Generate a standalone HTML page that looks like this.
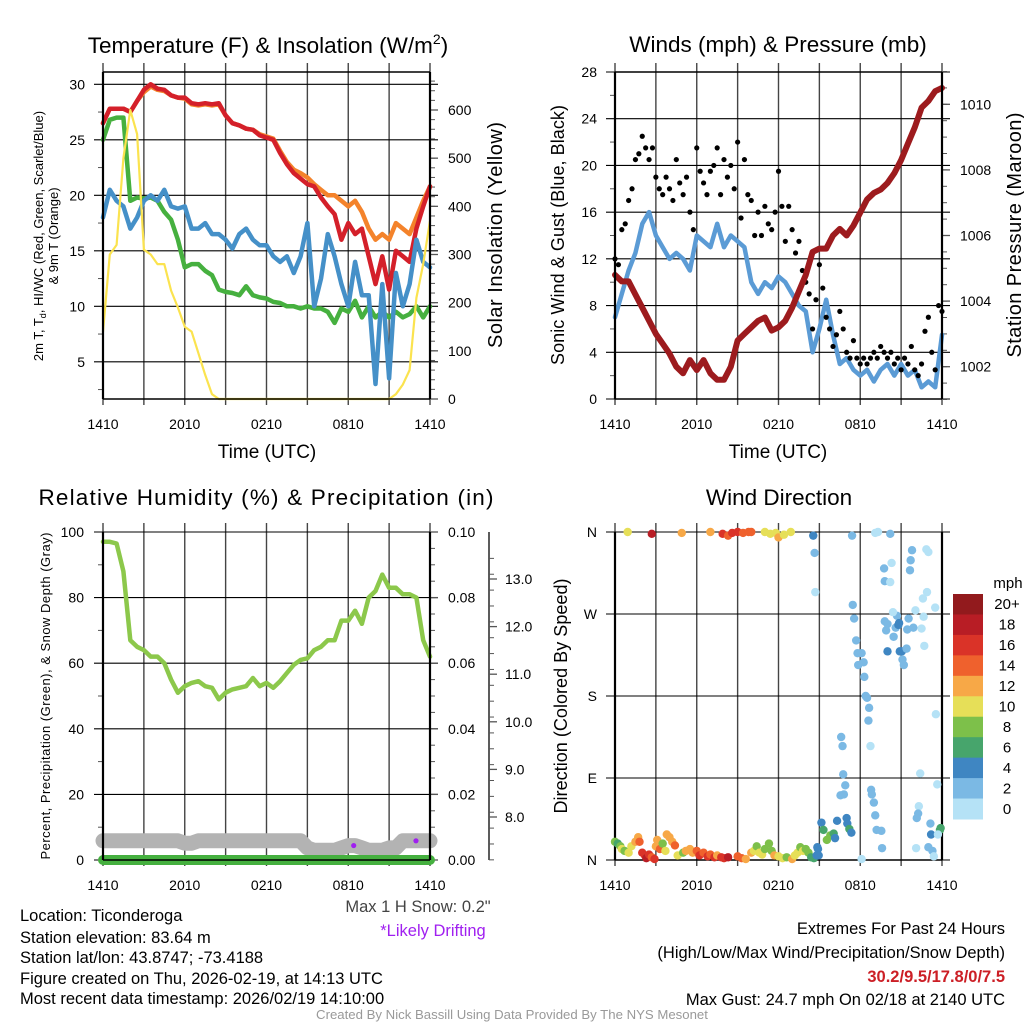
<!DOCTYPE html>
<html><head><meta charset="utf-8"><style>
html,body{margin:0;padding:0;background:#fff}
svg{display:block;font-family:"Liberation Sans",Arial,sans-serif}
</style></head><body>
<svg id="fig" width="1024" height="1024" viewBox="0 0 1024 1024" xmlns="http://www.w3.org/2000/svg">
<rect width="1024" height="1024" fill="#fff"/>
<g id="g-tl"></g>
<g id="g-tr"></g>
<g id="g-bl"></g>
<g id="g-br"></g>

<text x="268" y="53" font-size="22.5" text-anchor="middle">Temperature (F) &amp; Insolation (W/m<tspan font-size="14" dy="-9">2</tspan><tspan dy="9">)</tspan></text>
<text x="778" y="52" font-size="22.5" text-anchor="middle">Winds (mph) &amp; Pressure (mb)</text>
<text x="266" y="505" font-size="22.5" text-anchor="middle" textLength="455">Relative Humidity (%) &amp; Precipitation (in)</text>
<text x="779" y="505" font-size="22.5" text-anchor="middle">Wind Direction</text>

<text x="267" y="458" font-size="19" text-anchor="middle">Time (UTC)</text>
<text x="778" y="458" font-size="19" text-anchor="middle">Time (UTC)</text>

<text transform="translate(43,236) rotate(-90)" font-size="13" text-anchor="middle">2m T, T<tspan font-size="9" dy="3">d</tspan><tspan dy="-3">, HI/WC (Red, Green, Scarlet/Blue)</tspan></text>
<text transform="translate(58,236) rotate(-90)" font-size="13" text-anchor="middle">&amp; 9m T (Orange)</text>
<text transform="translate(502,235) rotate(-90)" font-size="20" text-anchor="middle" textLength="226">Solar Insolation (Yellow)</text>
<text transform="translate(564,235) rotate(-90)" font-size="18" text-anchor="middle" textLength="260">Sonic Wind &amp; Gust (Blue, Black)</text>
<text transform="translate(1021,235) rotate(-90)" font-size="20" text-anchor="middle" textLength="245">Station Pressure (Maroon)</text>
<text transform="translate(50,696) rotate(-90)" font-size="13" text-anchor="middle" textLength="327">Percent, Precipitation (Green), &amp; Snow Depth (Gray)</text>
<text transform="translate(567,696) rotate(-90)" font-size="18" text-anchor="middle" textLength="235">Direction (Colored By Speed)</text>

<g font-size="16.5">
<text x="20" y="921">Location: Ticonderoga</text>
<text x="20" y="943">Station elevation: 83.64 m</text>
<text x="20" y="963">Station lat/lon: 43.8747; -73.4188</text>
<text x="20" y="984">Figure created on Thu, 2026-02-19, at 14:13 UTC</text>
<text x="20" y="1004">Most recent data timestamp: 2026/02/19 14:10:00</text>
</g>
<text x="418" y="912" font-size="16.5" fill="#444" text-anchor="middle">Max 1 H Snow: 0.2"</text>
<text x="433" y="936" font-size="16.5" fill="#a020f0" text-anchor="middle">*Likely Drifting</text>
<g font-size="16.5" text-anchor="end">
<text x="1005" y="934">Extremes For Past 24 Hours</text>
<text x="1005" y="958">(High/Low/Max Wind/Precipitation/Snow Depth)</text>
<text x="1005" y="982" fill="#cc1f26" font-weight="bold">30.2/9.5/17.8/0/7.5</text>
<text x="1005" y="1005">Max Gust: 24.7 mph On 02/18 at 2140 UTC</text>
</g>
<text x="512" y="1019" font-size="13.2" fill="#999" text-anchor="middle">Created By Nick Bassill Using Data Provided By The NYS Mesonet</text>
</svg>
<script>
// ---- data (half-hourly from 1410 UTC to 1410 UTC) ----
const xTickLabels = ['1410','2010','0210','0810','1410'];
const temp2m = [26.5,27.8,27.8,27.8,27.5,28.5,29.5,30.0,29.6,29.5,29.0,28.8,28.8,28.3,28.2,28.3,28.2,28.3,27.2,26.5,26.3,26.0,25.9,25.4,25.2,25.0,23.8,22.8,22.0,21.5,21.0,20.8,19.8,19.0,18.3,16.0,17.5,16.5,17.0,14.5,12.0,14.5,11.5,15.0,14.5,14.0,17.0,19.0,20.8];
const temp9m = [26.5,27.8,27.8,27.8,27.5,28.5,29.3,29.8,29.5,29.4,29.0,28.8,28.7,28.2,28.1,28.2,28.1,28.2,27.2,26.5,26.3,26.0,25.9,25.5,25.3,25.1,24.0,23.0,22.3,22.0,21.6,21.0,20.5,20.0,20.0,19.5,19.0,19.5,18.5,17.0,16.0,16.5,16.0,17.5,17.0,16.5,18.0,19.5,20.8];
const dewpoint = [25.0,26.8,27.0,27.0,19.5,19.8,19.7,19.8,19.5,18.5,17.8,16.0,13.5,13.8,13.8,13.2,12.8,11.5,11.3,11.2,11.0,11.8,11.0,10.8,10.7,10.4,10.3,10.0,10.0,9.8,10.0,9.8,9.8,9.5,8.5,9.8,9.5,10.5,9.0,10.0,9.0,9.5,9.0,9.5,9.0,9.3,10.0,9.0,10.0];
const windChill = [18,20.5,19.5,19,17,18,19.5,20,19.5,20.5,19,18.8,19,17,17,17.5,16.5,16.5,16,15.2,16.5,17,16,15.5,15.5,14.5,14,14.5,13,14.5,17.5,10,12.5,16.5,14.5,12,10,14,11,11,3,12,3.5,13,10,12,16,14,13.5];
const solar = [140,300,320,500,600,550,310,300,280,280,225,190,150,140,95,50,10,0,0,0,0,0,0,0,0,0,0,0,0,0,0,0,0,0,0,0,0,0,0,0,0,0,0,10,30,60,210,280,370];
const tempTicks = [5,10,15,20,25,30];
const solarTicks = [0,100,200,300,400,500,600];

const sonicWind = [7,9,11,12.5,15,16,14,13,12,12.5,12,11,14,13.5,13,15,13,14,13.5,13,10,9,10,9.5,10.5,10,9,8,7.5,4,6,8.5,5.5,3,3.5,2.5,2,2.5,1.5,2.5,3,2,3,2,2.5,1,1.5,1,5.5];
const gusts = [12,11.5,14.5,15,17,18,20.5,21,22.5,21.5,20.5,21.5,19,18,17.5,19,18,17,20.5,18.5,17.5,19,16,14.5,21.5,19.5,18.5,17.5,19.5,20,21.5,17.5,20.5,19,20,18,22,15.5,20.5,17.5,17,14,16,14,16.5,15,14.5,16,19.5,16.5,13.5,16.5,14.5,12.5,13.5,11,10,9,6,8.5,11.5,9.5,7,6,4.5,5.5,7.5,6,4,3.5,5,3.5,3,3.5,3,3.5,4,3.5,4.5,4,3.5,4,3,3.5,2.5,3.5,3,4.5,2.5,2,3,5.8,7,4,2.5,8,7.5];
const pressure = [1004.8,1004.6,1004.6,1004.2,1003.8,1003.4,1003.0,1002.7,1002.4,1002.0,1001.8,1002.2,1001.9,1002.2,1001.8,1001.6,1001.6,1002.0,1002.8,1003.0,1003.2,1003.4,1003.5,1003.1,1003.2,1003.4,1003.8,1004.3,1004.8,1005.5,1005.6,1005.6,1006.0,1006.2,1006.0,1006.3,1006.7,1007.1,1007.3,1007.4,1007.6,1007.9,1008.3,1008.8,1009.3,1009.9,1010.1,1010.4,1010.5];
const windTicks = [0,4,8,12,16,20,24,28];
const pressureTicks = [1002,1004,1006,1008,1010];

const relHum = [97,97,96.5,88,67,65,64,62,62,60,55,51,53,54,54.5,53,52.5,49,51,52,52.5,53,55.5,53,54,52.5,54.5,57,59.5,61,61.5,64,65,67,67,73,73,76,72,80,82,87,83,83,81,81,80,67,62];
const precip = [0,0,0,0,0,0,0,0,0,0,0,0,0,0,0,0,0,0,0,0,0,0,0,0,0,0,0,0,0,0,0,0,0,0,0,0,0,0,0,0,0,0,0,0,0,0,0,0,0];
const snowDepth = [7.5,7.5,7.5,7.5,7.5,7.5,7.5,7.5,7.5,7.5,7.5,7.5,7.45,7.45,7.5,7.5,7.5,7.5,7.5,7.5,7.5,7.5,7.5,7.5,7.5,7.5,7.5,7.5,7.5,7.5,7.35,7.3,7.3,7.3,7.3,7.35,7.4,7.4,7.35,7.3,7.3,7.3,7.35,7.35,7.5,7.5,7.5,7.5,7.5];
const driftTimes = [18.4,22.97];
const driftDepth = [7.4,7.5];
const rhTicks = [0,20,40,60,80,100];
const precipTicks = ['0.00','0.02','0.04','0.06','0.08','0.10'];
const snowTicks = ['8.0','9.0','10.0','11.0','12.0','13.0'];

const dirTimes = [0,0.2,0.4,0.5,0.7,1,1.2,1.5,1.7,1.8,2,2.2,2.3,2.5,2.7,2.9,3,3.1,3.3,3.5,3.7,3.8,4,4.2,4.4,4.6,5,5.2,5.5,5.7,6,6.2,6.5,6.8,7,7.3,7.5,7.8,8,8.3,9,9.3,9.6,10,10.2,10.4,10.6,10.8,11,11.3,11.5,11.7,12,12.3,12.6,13,13.2,13.4,13.6,13.8,14,14.2,14.4,14.6,14.8,14.9,
0.93,2.7,4.9,7.0,7.9,8.3,8.6,9.0,9.4,9.8,10.0,11.0,11.4,11.8,12.0,12.4,12.9,14.55,14.65,14.7,17.4,19.1,19.3,20.2,19.75,20.3,19.8,20.2,21.8,21.7,21.65,22.85,23.0,22.9,22.6,23.5,17.45,17.55,17.7,17.8,18.1,17.85,18.25,18.3,18.4,18.5,18.65,18.6,18.75,16.6,16.7,16.75,16.9,16.55,16.8,18.8,18.85,19.0,19.1,19.2,19.55,19.6,18.1,
19.8,19.9,20.0,20.0,20.45,20.6,20.7,20.8,20.85,20.4,20.9,21.05,21.1,21.2,21.4,21.45,21.55,21.9,22.05,22.5,22.65,22.7,23.55,22.4,23.65,22.3,22.25,22.15,22.1,23.15,23.2,23.0,23.3,23.4,23.85,23.9,23.7,
15.15,15.3,15.55,15.8,16.05,16.15,16.3,17.0,17.05,17.2,17.35,14.85,14.95];
const dirDegrees = [20,18,15,12,10,8,15,20,25,20,8,5,2,6,3,1,15,22,12,18,10,28,25,20,16,5,8,10,12,8,10,5,8,4,6,3,5,3,2,3,4,2,1,8,10,15,8,6,12,18,10,5,4,2,3,1,5,8,14,10,12,8,3,2,5,12,
360,358,359,360,358,356,359,360,359,360,360,360,358,359,354,357,360,356,337,294,356,359,360,358,320,326,306,305,340,329,318,341,338,294,287,277,280,265,241,227,227,214,217,201,180,178,167,153,125,135,125,94,82,71,72,77,72,63,49,33,32,13,1,
262,252,259,229,245,255,268,258,260,272,229,229,220,214,232,253,265,255,274,254,267,235,160,95,83,59,51,46,13,40,28,14,10,4,33,35,28,
41,33,22,27,29,24,43,46,40,34,30,14,5];
const dirSpeeds = [8,6,8,10,8,10,10,12,12,14,16,16,18,16,14,16,12,12,14,8,10,12,12,12,14,10,8,12,12,12,14,16,14,16,14,16,12,16,16,18,14,14,12,12,10,8,10,10,8,8,8,12,10,10,8,12,10,10,8,10,8,8,6,6,4,4,
10,18,13,12,16,15,17,16,14,15,14,10,11,10,13,10,10,4,2,0,2,1,0,2,2,0,2,0,2,2,2,0,0,0,0,0,2,2,2,2,2,2,2,2,2,2,2,2,0,2,2,2,2,2,2,2,2,2,2,2,2,2,0,
2,2,2,4,2,2,2,4,4,0,4,4,2,2,2,2,2,2,0,0,0,0,0,0,0,0,2,2,0,2,4,2,2,0,6,6,0,
4,6,8,8,6,4,4,4,4,6,4,4,4];
const dirTickLabels = ['N','E','S','W','N'];
const speedBinLabels = ['0','2','4','6','8','10','12','14','16','18','20+'];
const speedBinColors = ['#b5e2f6','#7bb9e4','#3f86c2','#47a56c','#7dc04a','#e6df58','#f7a847','#ef612d','#da3328','#b81d25','#921a1d'];

// ---- helpers ----
const NS='http://www.w3.org/2000/svg';
function mk(parent,tag,attrs){const e=document.createElementNS(NS,tag);for(const k in attrs)e.setAttribute(k,attrs[k]);parent.appendChild(e);return e;}
function tOf(i,n){return i*24/(n-1);}
function makeX(x0,x1){return t=>x0+t/24*(x1-x0);}

function drawFrame(g,P,hLines,yFn){
  for(let k=0;k<=8;k++){
    const x=P.x(k*3);
    const l=mk(g,'line',{x1:x,x2:x,y1:P.y0-9,y2:P.y1+6,stroke:'#444','stroke-width':1.4});
    
    
  }
  hLines.forEach(v=>{
    const y=yFn(v);
    const l=mk(g,'line',{x1:P.x0-9,x2:P.x1+8,y1:y,y2:y,stroke:'#000','stroke-width':1.1});
    
    
  });
  xTickLabels.forEach((s,i)=>{
    const t=mk(g,'text',{x:P.x(i*6),y:P.y1+30,'font-size':14,'text-anchor':'middle'});
    t.textContent=s;
    
    
  });
}
function borders(g,P,top){
  mk(g,'line',{x1:P.x0,x2:P.x0,y1:P.y0,y2:P.y1,stroke:'#000','stroke-width':2.2});
  mk(g,'line',{x1:P.x1,x2:P.x1,y1:P.y0,y2:P.y1,stroke:'#000','stroke-width':2.2});
  if(top) mk(g,'line',{x1:P.x0,x2:P.x1,y1:P.y0,y2:P.y0,stroke:'#000','stroke-width':1.5});
  mk(g,'line',{x1:P.x0,x2:P.x1,y1:P.y1,y2:P.y1,stroke:'#000','stroke-width':1.5});
}
function leftLabels(g,vals,yFn,xEnd,labels){
  vals.forEach((v,i)=>{
    const t=mk(g,'text',{x:xEnd,y:yFn(v)+5,'font-size':14,'text-anchor':'end'});
    t.textContent=labels?labels[i]:String(v);
    
    
  });
}
function leftMinor(g,P,vals,yFn){
  vals.forEach(v=>{const y=yFn(v);if(y>=P.y0-1&&y<=P.y1+1)mk(g,'line',{x1:P.x0-5,x2:P.x0,y1:y,y2:y,stroke:'#555','stroke-width':1});});
}
function rightAxis(g,P,majors,labels,yFn,minors,xLab){
  minors.forEach(v=>{const y=yFn(v);if(y>=P.y0-1&&y<=P.y1+1)mk(g,'line',{x1:P.x1,x2:P.x1+5,y1:y,y2:y,stroke:'#555','stroke-width':1});});
  majors.forEach((v,i)=>{
    const y=yFn(v);
    mk(g,'line',{x1:P.x1,x2:P.x1+8,y1:y,y2:y,stroke:'#555','stroke-width':1.3});
    const t=mk(g,'text',{x:xLab,y:y+5,'font-size':14});
    t.textContent=labels[i];
    
    
  });
}
function line(g,arr,P,yFn,color,w,name){
  const n=arr.length;
  const d=arr.map((v,i)=>(i?'L':'M')+P.x(tOf(i,n)).toFixed(1)+','+yFn(v).toFixed(1)).join('');
  const p=mk(g,'path',{d:d,fill:'none',stroke:color,'stroke-width':w,'stroke-linejoin':'round','stroke-linecap':'round'});
  
  
  return p;
}
function range(a,b,s){const r=[];for(let v=a;v<=b+1e-9;v+=s)r.push(+v.toFixed(4));return r;}

// ---- top-left: temperature ----
(function(){
  const g=document.getElementById('g-tl');
  const P={x0:103,x1:430,y0:72,y1:399};P.x=makeX(P.x0,P.x1);
  const yT=v=>84.3+(30-v)*11.1;
  const yS=v=>399-v*289/600;
  drawFrame(g,P,tempTicks,yT);
  leftMinor(g,P,range(2.5,30,5),yT);
  leftLabels(g,tempTicks,yT,85);
  rightAxis(g,P,solarTicks,solarTicks.map(String),yS,range(0,660,20),448);
  line(g,temp9m,P,yT,'#f4832b',4.5,'temp-9m-line');
  line(g,temp2m,P,yT,'#d4202a',4.5,'temp-2m-line');
  line(g,dewpoint,P,yT,'#46b03f',4.5,'dewpoint-line');
  line(g,windChill,P,yT,'#4590c8',4.5,'wind-chill-line');
  line(g,solar,P,yS,'#fbe34f',2.2,'solar-line');
  borders(g,P,true);
})();

// ---- top-right: wind & pressure ----
(function(){
  const g=document.getElementById('g-tr');
  const P={x0:615,x1:942,y0:72,y1:399};P.x=makeX(P.x0,P.x1);
  const yW=v=>399-v*327/28;
  const yP=v=>104.3+(1010-v)*32.8;
  drawFrame(g,P,windTicks,yW);
  leftMinor(g,P,range(2,26,4),yW);
  leftLabels(g,windTicks,yW,597);
  rightAxis(g,P,pressureTicks,pressureTicks.map(String),yP,range(1001,1011,0.5),960);
  line(g,sonicWind,P,yW,'#5b9bd5',4.5,'sonic-wind-line');
  gusts.forEach((v,i)=>{
    const c=mk(g,'circle',{cx:P.x(tOf(i,gusts.length)),cy:yW(v),r:2.6,fill:'#000'});
    
    
  });
  line(g,pressure,P,yP,'#9d1b1e',6,'pressure-line');
  borders(g,P,true);
})();

// ---- bottom-left: RH, precip, snow ----
(function(){
  const g=document.getElementById('g-bl');
  const P={x0:103,x1:430,y0:532,y1:860};P.x=makeX(P.x0,P.x1);
  const yR=v=>860-v*3.28;
  const yPr=v=>860-v/0.1*328;
  const yS=v=>817-(v-8)*47.6;
  drawFrame(g,P,rhTicks,yR);
  leftMinor(g,P,range(10,90,20),yR);
  leftLabels(g,rhTicks,yR,84);
  rightAxis(g,P,precipTicks.map(Number),precipTicks,yPr,range(0,0.1,0.005),448);
  mk(g,'line',{x1:489,x2:489,y1:532,y2:860,stroke:'#333','stroke-width':1.6});
  range(7.1,13.6,1/3).forEach(v=>{const y=yS(v);if(y>=532&&y<=860)mk(g,'line',{x1:489,x2:494,y1:y,y2:y,stroke:'#555','stroke-width':1});});
  snowTicks.forEach(s=>{
    const y=yS(Number(s));
    mk(g,'line',{x1:489,x2:497,y1:y,y2:y,stroke:'#555','stroke-width':1.3});
    const t=mk(g,'text',{x:505,y:y+5,'font-size':14});
    t.textContent=s;
    
    
  });
  line(g,snowDepth,P,yS,'#b3b3b3',15,'snow-depth-line');
  line(g,precip,P,yPr,'#45b03f',10,'precip-line');
  line(g,relHum,P,yR,'#8cc84b',4.5,'humidity-line');
  driftTimes.forEach((t,i)=>{
    const c=mk(g,'circle',{cx:P.x(t),cy:yS(driftDepth[i]),r:2.6,fill:'#a020f0'});
    
    
  });
  borders(g,P,false);
})();

// ---- bottom-right: wind direction ----
(function(){
  const g=document.getElementById('g-br');
  const P={x0:615,x1:942,y0:532,y1:860};P.x=makeX(P.x0,P.x1);
  const yD=d=>860-d*328/360;
  const dirVals=[0,90,180,270,360];
  drawFrame(g,P,dirVals,yD);
  leftLabels(g,dirVals,yD,597,dirTickLabels);
  borders(g,P,false);
  dirTimes.forEach((t,i)=>{
    const s=dirSpeeds[i];
    const bin=Math.min(10,Math.floor(s/2));
    const c=mk(g,'circle',{cx:P.x(t),cy:yD(dirDegrees[i]),r:4.2,fill:speedBinColors[bin]});
    
    
  });
  const cb=mk(g,'g',{});
  
  
  const top=594,h=(819-594)/11;
  speedBinLabels.forEach((lab,i)=>{
    const idx=10-i;
    const y=top+i*h;
    const r=mk(cb,'rect',{x:953,y:y,width:30,height:h+0.5,fill:speedBinColors[idx]});
    
    
    const t=mk(cb,'text',{x:1007,y:y+h/2+5,'font-size':15,'text-anchor':'middle'});
    t.textContent=speedBinLabels[idx];
    
    
  });
  const u=mk(cb,'text',{x:1008,y:588,'font-size':15,'text-anchor':'middle'});
  u.textContent='mph';
  
  
})();
</script>
</body></html>
